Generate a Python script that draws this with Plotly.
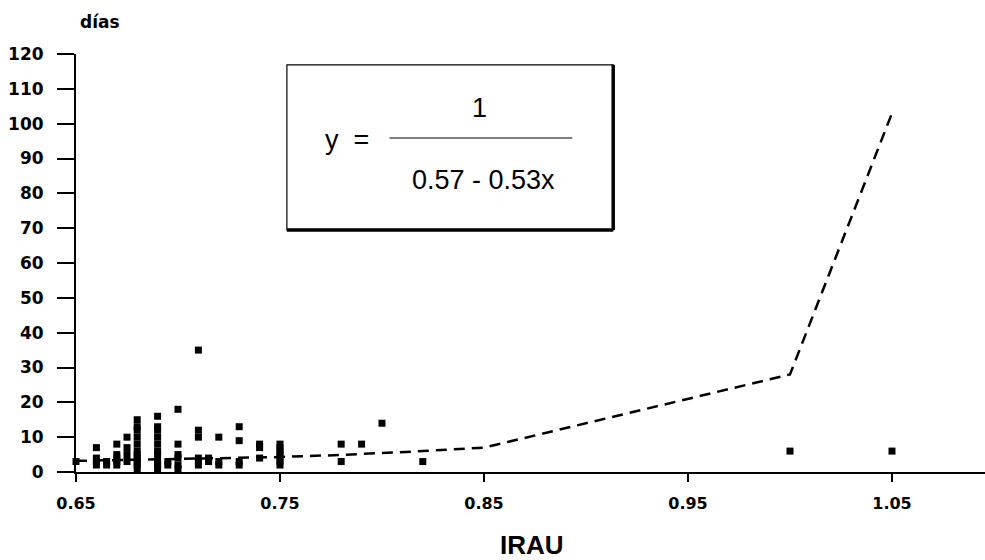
import plotly.graph_objects as go

# scatter data (IRAU, días)
irau = [0.65,
        0.66, 0.66, 0.66, 0.66, 0.665, 0.665,
        0.67, 0.67, 0.67, 0.67, 0.67,
        0.675, 0.675, 0.675, 0.675,
        0.68, 0.68, 0.68, 0.68, 0.68, 0.68, 0.68, 0.68, 0.68, 0.68, 0.68,
        0.69, 0.69, 0.69, 0.69, 0.69, 0.69, 0.69, 0.69, 0.69, 0.69,
        0.695, 0.695,
        0.70, 0.70, 0.70, 0.70, 0.70, 0.70,
        0.71, 0.71, 0.71, 0.71, 0.71, 0.71,
        0.715, 0.715,
        0.72, 0.72, 0.72,
        0.73, 0.73, 0.73, 0.73,
        0.74, 0.74, 0.74,
        0.75, 0.75, 0.75, 0.75, 0.75, 0.75, 0.75,
        0.78, 0.78, 0.79, 0.80, 0.82,
        1.00, 1.05]
dias = [3,
        2, 3, 4, 7, 2, 3,
        2, 3, 4, 5, 8,
        3, 5, 7, 10,
        1, 2, 3, 4, 5, 6, 8, 10, 12, 13, 15,
        1, 2, 3, 5, 6, 8, 10, 12, 13, 16,
        2, 3,
        1, 2, 4, 5, 8, 18,
        2, 3, 4, 10, 12, 35,
        3, 4,
        2, 3, 10,
        2, 3, 9, 13,
        4, 7, 8,
        2, 3, 4, 5, 6, 7, 8,
        3, 8, 8, 14, 3,
        6, 6]

# fitted curve (dashed)
curve_x = [0.65, 0.70, 0.75, 0.78, 0.80, 0.82, 0.85, 1.00, 1.05]
curve_y = [3.2, 3.7, 4.3, 4.9, 5.4, 6.0, 7.0, 28, 103]

x_ticks = [0.65, 0.75, 0.85, 0.95, 1.05]
y_ticks = list(range(0, 121, 10))

BOLD = "DejaVu Sans"

fig = go.Figure()
fig.add_trace(go.Scatter(x=curve_x, y=curve_y, mode="lines",
                         line=dict(color="black", width=2.5, dash="11px,7px"),
                         hoverinfo="skip"))
fig.add_trace(go.Scatter(x=irau, y=dias, mode="markers",
                         marker=dict(symbol="square", size=7, color="black"),
                         cliponaxis=False))

fig.update_layout(
    width=985, height=560,
    margin=dict(l=76, r=0, t=54, b=88),
    plot_bgcolor="white", paper_bgcolor="white",
    showlegend=False,
    font=dict(family="Liberation Sans, Arial", color="black"),
)
fig.update_xaxes(range=[0.65, 1.0956], tickvals=x_ticks,
                 ticktext=[f"{v:.2f}" for v in x_ticks],
                 showgrid=False, zeroline=False,
                 showline=True, linecolor="black", linewidth=2,
                 ticks="outside", ticklen=8, tickwidth=1.5, tickcolor="black",
                 ticklabelstandoff=8,
                 tickfont=dict(size=16, family=BOLD, weight="bold"))
fig.update_yaxes(range=[0, 120], tickvals=y_ticks,
                 showgrid=False, zeroline=False,
                 showline=True, linecolor="black", linewidth=2,
                 ticks="outside", ticklen=17, tickwidth=1.5, tickcolor="black",
                 ticklabelstandoff=10,
                 tickfont=dict(size=17, family=BOLD, weight="bold"))

# axis labels
fig.add_annotation(text="días", xref="paper", yref="paper", x=0.002, y=1.077,
                   xanchor="left", yanchor="middle", showarrow=False,
                   font=dict(size=17, family=BOLD, weight="bold"))
fig.add_annotation(text="IRAU", xref="paper", yref="paper", x=0.502, y=-0.175,
                   xanchor="center", yanchor="middle", showarrow=False,
                   font=dict(size=26, weight="bold"))

# equation box with shadowed right/bottom edges
fig.add_shape(type="rect", xref="paper", yref="paper",
              x0=0.232, x1=0.591, y0=0.579, y1=0.974,
              line=dict(color="black", width=1.2), fillcolor="white", layer="above")
fig.add_shape(type="line", xref="paper", yref="paper",
              x0=0.591, x1=0.591, y0=0.579, y1=0.974,
              line=dict(color="black", width=3.5))
fig.add_shape(type="line", xref="paper", yref="paper",
              x0=0.232, x1=0.591, y0=0.579, y1=0.579,
              line=dict(color="black", width=3.5))
fig.add_shape(type="line", xref="paper", yref="paper",
              x0=0.345, x1=0.546, y0=0.799, y1=0.799,
              line=dict(color="black", width=1.2))
eq = dict(xref="paper", yref="paper", xanchor="center", yanchor="middle",
          showarrow=False, font=dict(size=27))
fig.add_annotation(text="y&nbsp;&nbsp;=", x=0.298, y=0.794, **eq)
fig.add_annotation(text="1", x=0.444, y=0.871, **eq)
fig.add_annotation(text="0.57 - 0.53x", x=0.448, y=0.699, **eq)

# the page's default 8px body margin would shift the figure
fig.write_html("out.html", config={"displayModeBar": False},
               post_script="document.body.style.margin='0';")
